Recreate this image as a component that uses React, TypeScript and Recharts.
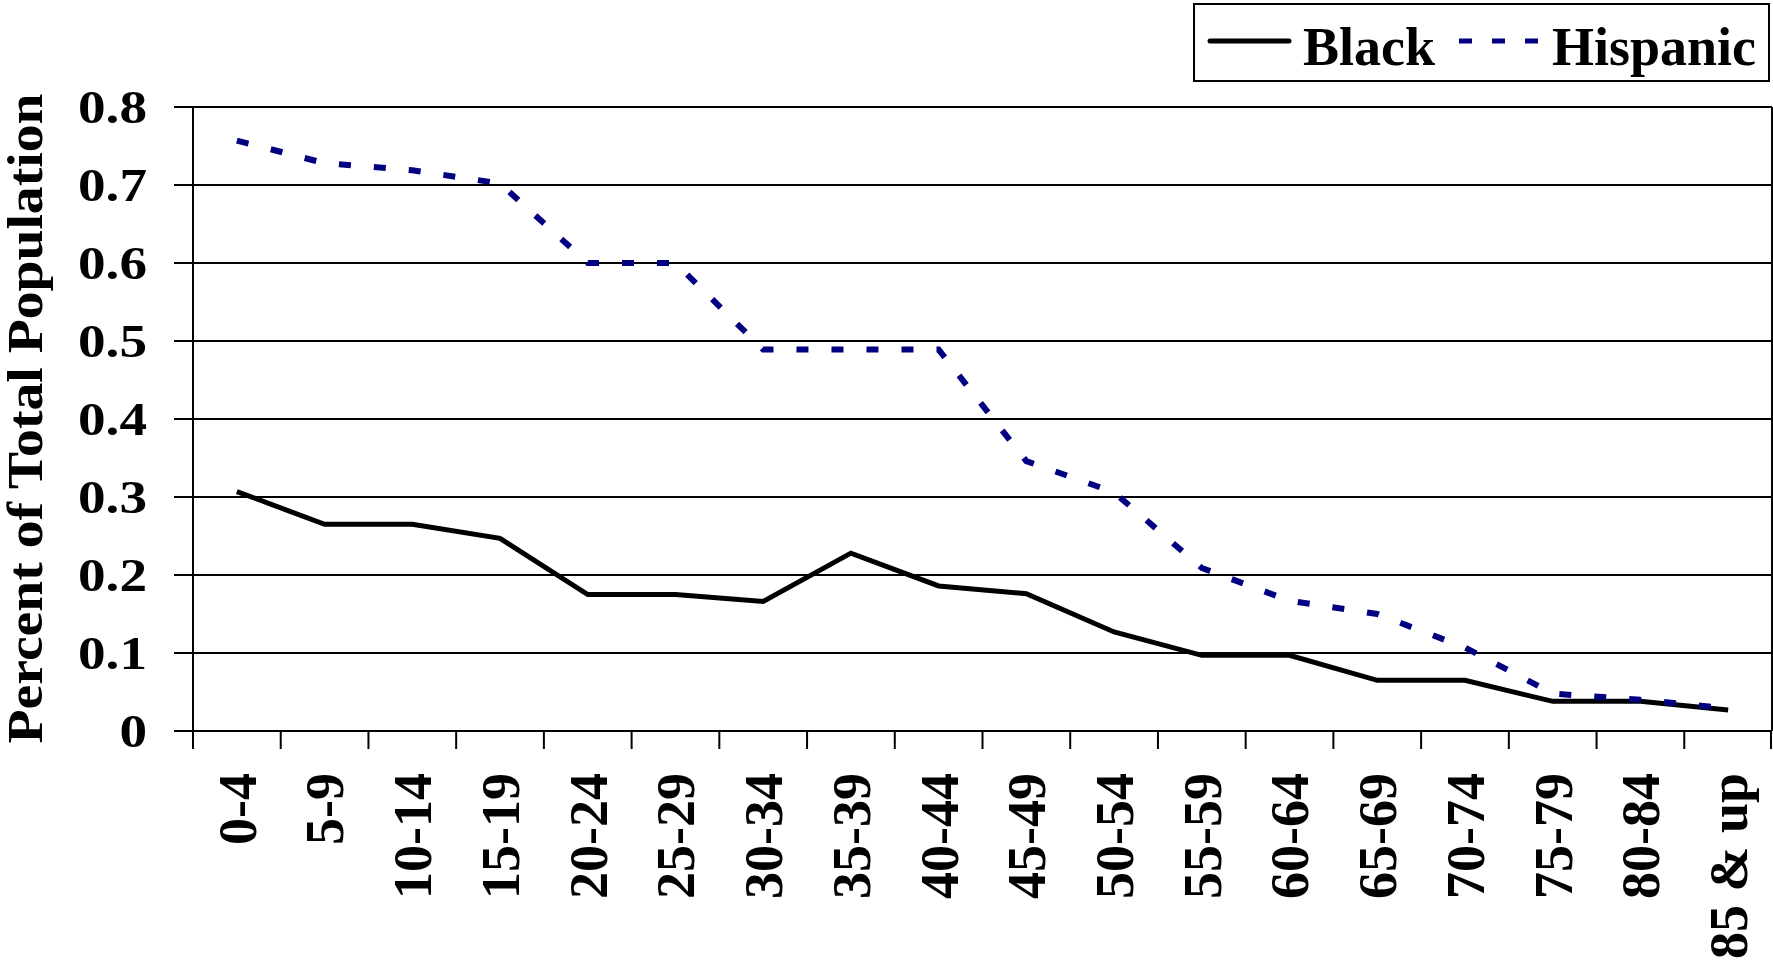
import React from 'react';
import { LineChart, Line, XAxis, YAxis, CartesianGrid, Legend } from 'recharts';

const ageGroups = [
  '0-4', '5-9', '10-14', '15-19', '20-24', '25-29', '30-34', '35-39', '40-44',
  '45-49', '50-54', '55-59', '60-64', '65-69', '70-74', '75-79', '80-84', '85 & up',
];
const blackPct = [
  0.307, 0.265, 0.265, 0.247, 0.175, 0.175, 0.166, 0.228, 0.186,
  0.176, 0.127, 0.097, 0.097, 0.065, 0.065, 0.038, 0.038, 0.027,
];
const hispanicPct = [
  0.757, 0.728, 0.719, 0.702, 0.6, 0.6, 0.489, 0.489, 0.489,
  0.346, 0.306, 0.209, 0.167, 0.15, 0.107, 0.048, 0.04, 0.029,
];
const yTicks = [0, 0.1, 0.2, 0.3, 0.4, 0.5, 0.6, 0.7, 0.8];
const yTitle = 'Percent of Total Population';

const data = ageGroups.map((age, i) => ({ age, black: blackPct[i], hispanic: hispanicPct[i] }));

const W = 1773;
const H = 966;
const Y_AXIS_W = 193;
const X_AXIS_H = 235;
const TOP = 107;
const BAND = (W - Y_AXIS_W - 1) / ageGroups.length;
const FONT = "'Liberation Serif', 'Times New Roman', serif";

// categories sit between tick marks, like the old spreadsheet chart
const AgeTick = (props: any) => {
  const { x, y, payload } = props;
  const idx = ageGroups.indexOf(payload.value);
  const half = BAND / 2;
  return (
    <g>
      <line x1={x - half} x2={x - half} y1={y} y2={y + 18} stroke="#000" strokeWidth={2} />
      {idx === ageGroups.length - 1 && (
        <line x1={x + half - 1} x2={x + half - 1} y1={y} y2={y + 18} stroke="#000" strokeWidth={2} />
      )}
      <text
        transform={`translate(${x},${y + 42}) rotate(-90)`}
        textAnchor="end"
        dy="0.35em"
        fontFamily={FONT}
        fontWeight="bold"
        fontSize={54}
        fill="#000"
      >
        {payload.value}
      </text>
    </g>
  );
};

const PctTick = (props: any) => {
  const { x, y, payload } = props;
  return (
    <text
      transform={`translate(${x},${y}) scale(1.2,1)`}
      textAnchor="end"
      dy="0.34em"
      fontFamily={FONT}
      fontWeight="bold"
      fontSize={46}
      fill="#000"
    >
      {String(payload.value)}
    </text>
  );
};

const renderTitle = () => (
  <text
    transform="translate(42,418.5) rotate(-90)"
    textAnchor="middle"
    textLength={650}
    lengthAdjust="spacingAndGlyphs"
    fontFamily={FONT}
    fontWeight="bold"
    fontSize={50}
    fill="#000"
  >
    {yTitle}
  </text>
);

const legendX = [17, 266];

const renderLegend = (props: any) => {
  const payload = props.payload || [];
  return (
    <svg width={577} height={79} style={{ display: 'block' }}>
      <rect x={1} y={1} width={575} height={77} fill="#fff" stroke="#000" strokeWidth={2} />
      {payload.map((entry: any, i: number) => {
        const x0 = legendX[i] ?? 17;
        const dashed = !!(entry.payload && entry.payload.strokeDasharray);
        return (
          <g key={entry.value}>
            <line
              x1={x0}
              x2={x0 + 79}
              y1={38}
              y2={38}
              stroke={entry.color}
              strokeWidth={5}
              strokeLinecap={dashed ? 'butt' : 'round'}
              strokeDasharray={dashed ? '13 20' : undefined}
            />
            <text x={x0 + 93} y={62} fontFamily={FONT} fontWeight="bold" fontSize={54} fill="#000">
              {entry.value}
            </text>
          </g>
        );
      })}
    </svg>
  );
};

export default function App() {
  return (
    <div style={{ position: 'absolute', left: 0, top: 0, width: W, height: H, background: '#fff' }}>
      <LineChart width={W} height={H} data={data} margin={{ top: TOP, right: 0, bottom: 0, left: 0 }}>
        <CartesianGrid vertical={false} stroke="#000" strokeWidth={2} />
        <XAxis
          dataKey="age"
          height={X_AXIS_H}
          interval={0}
          padding={{ left: BAND / 2, right: BAND / 2 }}
          tickLine={false}
          tickSize={0}
          tickMargin={0}
          axisLine={{ stroke: '#000', strokeWidth: 2 }}
          tick={<AgeTick />}
        />
        <YAxis
          width={Y_AXIS_W}
          domain={[0, 0.8]}
          ticks={yTicks}
          interval={0}
          tickSize={19}
          tickMargin={27}
          tickLine={{ stroke: '#000', strokeWidth: 2 }}
          axisLine={{ stroke: '#000', strokeWidth: 2 }}
          tick={<PctTick />}
          label={renderTitle}
        />
        <YAxis
          yAxisId="right"
          orientation="right"
          width={1}
          domain={[0, 1]}
          tick={false}
          tickLine={false}
          axisLine={{ stroke: '#000', strokeWidth: 2 }}
        />
        <Legend
          layout="vertical"
          align="center"
          verticalAlign="middle"
          content={renderLegend}
          wrapperStyle={{ top: 3, left: 1193, width: 577, height: 79 }}
        />
        <Line
          type="linear"
          dataKey="black"
          name="Black"
          stroke="#000"
          strokeWidth={5}
          dot={false}
          isAnimationActive={false}
        />
        <Line
          type="linear"
          dataKey="hispanic"
          name="Hispanic"
          stroke="#000080"
          strokeWidth={6}
          strokeDasharray="12 23"
          dot={false}
          isAnimationActive={false}
        />
      </LineChart>
    </div>
  );
}
